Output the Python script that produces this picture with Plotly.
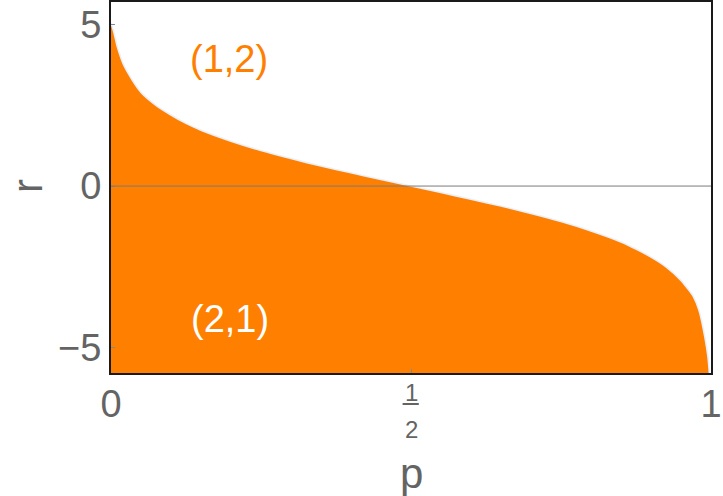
import plotly.graph_objects as go

# boundary curve r(p)
P_VALUES = [0, 0.005, 0.01, 0.015, 0.02, 0.03, 0.04, 0.05, 0.075, 0.1, 0.125, 0.15, 0.2,
            0.25, 0.3, 0.35, 0.4, 0.45, 0.5, 0.55, 0.6, 0.65, 0.7, 0.75, 0.8,
            0.85, 0.875, 0.9, 0.925, 0.95, 0.96, 0.97, 0.98, 0.99, 0.995, 0.998]
R_VALUES = [5.05, 4.75, 4.35, 4.05, 3.8, 3.45, 3.15, 2.9, 2.5, 2.2, 1.94, 1.73, 1.39,
            1.1, 0.85, 0.62, 0.41, 0.2, 0.0, -0.2, -0.41, -0.62, -0.85, -1.1, -1.39,
            -1.73, -1.95, -2.2, -2.5, -2.92, -3.15, -3.4, -3.85, -4.7, -5.3, -5.95]

X_RANGE = [0, 1]
Y_RANGE = [-5.79, 5.70]
X_TICKS = [0, 0.5, 1]
X_TICKTEXT = ["0", "", "1"]
Y_TICKS = [-5, 0, 5]
Y_TICKTEXT = ["\u22125", "0", "5"]

REGION_LABELS = ["(1,2)", "(2,1)"]
REGION_POS = [(0.197, 3.93), (0.198, -4.12)]

ORANGE = "#FF8000"
GRAY = "#646464"
FONT = "Liberation Sans, Arial, sans-serif"

fig = go.Figure()

# baseline at the bottom of the frame, the curve fills down to it
fig.add_trace(go.Scatter(
    x=X_RANGE, y=[Y_RANGE[0], Y_RANGE[0]], mode="lines",
    line=dict(width=0, color=ORANGE), hoverinfo="skip", showlegend=False,
))
fig.add_trace(go.Scatter(
    x=P_VALUES, y=R_VALUES, mode="lines", fill="tonexty", fillcolor=ORANGE,
    line=dict(color="#eaf0fa", width=1.6, shape="spline", smoothing=0.6),
    showlegend=False,
))

fig.add_hline(y=0, line=dict(color="#7a7a7a", width=1), layer="above")

label_colors = [ORANGE, "white"]
for text, (px_, py_), col in zip(REGION_LABELS, REGION_POS, label_colors):
    fig.add_annotation(x=px_, y=py_, text=text, showarrow=False,
                       font=dict(size=38, color=col, family=FONT))

# the 1/2 tick label drawn as a stacked fraction
fig.add_annotation(x=0.5, xref="x", y=-0.052, yref="paper", text="1", showarrow=False,
                   font=dict(size=24, color=GRAY, family=FONT), yanchor="middle")
fig.add_annotation(x=0.5, xref="x", y=-0.153, yref="paper", text="2", showarrow=False,
                   font=dict(size=24, color=GRAY, family=FONT), yanchor="middle")
fig.add_shape(type="line", xref="x", yref="paper", x0=0.486, x1=0.513,
              y0=-0.0836, y1=-0.0836, line=dict(color=GRAY, width=2))

# axis titles
fig.add_annotation(x=0.5, xref="x", y=-0.27, yref="paper", text="p", showarrow=False,
                   font=dict(size=42, color=GRAY, family=FONT), yanchor="middle")
fig.add_annotation(x=-0.14, xref="paper", y=0, yref="y", text="r", showarrow=False,
                   xanchor="center", yanchor="middle", textangle=-90,
                   font=dict(size=42, color=GRAY, family=FONT))

axis_common = dict(
    showgrid=False, zeroline=False, showline=True, mirror=True,
    linecolor="#1a1a1a", linewidth=2, ticks="inside", ticklen=4,
    tickcolor="#888888", tickfont=dict(size=38, color=GRAY, family=FONT),
)
fig.update_xaxes(range=X_RANGE, tickvals=X_TICKS, ticktext=X_TICKTEXT,
                 ticklabelstandoff=-4, **axis_common)
fig.update_yaxes(range=Y_RANGE, tickvals=Y_TICKS, ticktext=Y_TICKTEXT, **axis_common)

fig.update_layout(
    width=723, height=496,
    margin=dict(l=111, r=12, t=2, b=123, autoexpand=False),
    plot_bgcolor="white", paper_bgcolor="white",
    font=dict(family=FONT, color=GRAY),
)

fig.write_html("out.html", config={"displayModeBar": False},
               post_script="document.body.style.margin='0px';")
